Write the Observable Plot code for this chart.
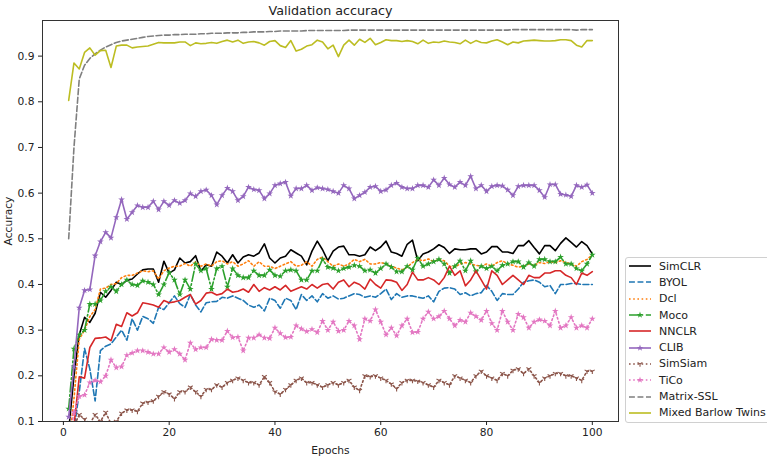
<!DOCTYPE html>
<html><head><meta charset="utf-8">
<script src="https://cdn.jsdelivr.net/npm/d3@7"></script>
<script src="https://cdn.jsdelivr.net/npm/@observablehq/plot@0.6"></script>
<style>
body{margin:0;background:#fff;font-family:"DejaVu Sans",sans-serif;}
#wrap{position:relative;width:767px;height:458px;overflow:hidden;}
#legend{position:absolute;left:625px;top:257px;width:160px;border:1px solid #d0d0d0;border-radius:3px;background:#fff;padding:0 0 1px 0;}
.item{display:flex;align-items:center;height:16.3px;font-size:11px;color:#222;white-space:nowrap;}
.item svg{flex:none;margin-right:3px;}
</style></head><body><div id="wrap"><div id="legend"></div></div>
<script>
const seriesNames = ["SimCLR","BYOL","Dcl","Moco","NNCLR","CLIB","SimSiam","TiCo","Matrix-SSL","Mixed Barlow Twins"];
const xTicks = [0,20,40,60,80,100];
const yTicks = [0.1,0.2,0.3,0.4,0.5,0.6,0.7,0.8,0.9];

const simclr = [0.08,0.20,0.29,0.328,0.317,0.337,0.383,0.372,0.387,0.405,
0.400,0.409,0.412,0.423,0.432,0.434,0.434,0.405,0.451,0.425,
0.432,0.458,0.447,0.450,0.463,0.429,0.443,0.440,0.471,0.462,
0.447,0.465,0.447,0.460,0.465,0.462,0.469,0.489,0.458,0.447,
0.458,0.462,0.476,0.469,0.462,0.443,0.473,0.495,0.476,0.452,
0.473,0.482,0.484,0.465,0.465,0.462,0.465,0.482,0.474,0.482,
0.495,0.471,0.468,0.462,0.488,0.497,0.452,0.467,0.471,0.478,
0.487,0.481,0.468,0.478,0.476,0.476,0.478,0.478,0.467,0.471,
0.483,0.483,0.471,0.471,0.468,0.485,0.485,0.496,0.481,0.467,
0.485,0.485,0.474,0.490,0.502,0.492,0.482,0.494,0.485,0.467];

const byol = [0.02,0.08,0.165,0.26,0.215,0.145,0.255,0.265,0.27,0.285,
0.30,0.278,0.325,0.30,0.33,0.325,0.315,0.35,0.345,0.36,
0.375,0.358,0.35,0.378,0.355,0.34,0.36,0.362,0.363,0.372,
0.37,0.375,0.37,0.365,0.355,0.35,0.355,0.342,0.37,0.365,
0.348,0.37,0.365,0.345,0.378,0.365,0.375,0.362,0.38,0.37,
0.375,0.368,0.37,0.375,0.38,0.378,0.372,0.375,0.372,0.38,
0.39,0.367,0.38,0.372,0.375,0.375,0.372,0.37,0.375,0.362,
0.385,0.392,0.393,0.39,0.378,0.382,0.375,0.38,0.382,0.398,
0.385,0.365,0.38,0.378,0.378,0.39,0.405,0.408,0.41,0.405,
0.395,0.398,0.38,0.40,0.40,0.402,0.402,0.40,0.40,0.40];

const dcl = [0.04,0.15,0.28,0.30,0.33,0.345,0.39,0.392,0.40,0.402,
0.415,0.42,0.42,0.425,0.43,0.428,0.43,0.412,0.43,0.436,
0.44,0.44,0.446,0.44,0.45,0.44,0.445,0.44,0.45,0.452,
0.445,0.45,0.44,0.445,0.452,0.44,0.45,0.44,0.44,0.435,
0.44,0.445,0.45,0.44,0.442,0.45,0.44,0.455,0.46,0.45,
0.44,0.445,0.44,0.445,0.455,0.45,0.455,0.445,0.445,0.448,
0.445,0.44,0.436,0.432,0.438,0.448,0.455,0.452,0.456,0.45,
0.455,0.452,0.44,0.438,0.445,0.448,0.445,0.442,0.44,0.445,
0.44,0.448,0.452,0.445,0.442,0.438,0.44,0.445,0.442,0.448,
0.446,0.45,0.448,0.452,0.448,0.445,0.44,0.45,0.455,0.465];

const moco = [0.128,0.259,0.29,0.30,0.357,0.357,0.365,0.385,0.395,0.385,
0.40,0.41,0.40,0.398,0.408,0.405,0.40,0.378,0.40,0.426,
0.41,0.378,0.41,0.39,0.445,0.43,0.435,0.39,0.435,0.44,
0.395,0.435,0.42,0.415,0.415,0.43,0.42,0.42,0.432,0.42,
0.418,0.43,0.432,0.43,0.41,0.41,0.43,0.43,0.455,0.438,
0.436,0.43,0.435,0.438,0.442,0.44,0.43,0.432,0.425,0.435,
0.445,0.438,0.428,0.428,0.44,0.432,0.458,0.44,0.445,0.45,
0.455,0.445,0.425,0.44,0.452,0.43,0.452,0.428,0.44,0.435,
0.44,0.43,0.442,0.445,0.45,0.45,0.438,0.448,0.44,0.455,
0.455,0.45,0.45,0.46,0.445,0.445,0.435,0.43,0.445,0.465];

const nnclr = [0.03,0.09,0.198,0.195,0.262,0.282,0.283,0.285,0.277,0.313,
0.308,0.338,0.331,0.338,0.36,0.358,0.355,0.35,0.365,0.36,
0.362,0.365,0.372,0.378,0.357,0.365,0.381,0.383,0.377,0.38,
0.39,0.383,0.385,0.39,0.383,0.40,0.385,0.393,0.388,0.395,
0.388,0.398,0.385,0.39,0.395,0.39,0.40,0.392,0.40,0.402,
0.39,0.405,0.41,0.395,0.405,0.40,0.39,0.412,0.40,0.392,
0.41,0.409,0.405,0.387,0.40,0.427,0.41,0.41,0.415,0.41,
0.40,0.415,0.44,0.42,0.43,0.397,0.41,0.43,0.41,0.39,
0.43,0.42,0.40,0.41,0.42,0.41,0.40,0.42,0.415,0.415,
0.425,0.425,0.43,0.43,0.42,0.415,0.40,0.425,0.42,0.428];

const clib = [0.11,0.22,0.349,0.387,0.389,0.463,0.494,0.514,0.502,0.547,
0.586,0.543,0.558,0.573,0.569,0.569,0.582,0.564,0.582,0.573,
0.584,0.578,0.584,0.599,0.593,0.604,0.607,0.595,0.575,0.595,
0.611,0.604,0.584,0.593,0.613,0.608,0.606,0.588,0.599,0.617,
0.621,0.624,0.594,0.610,0.610,0.617,0.606,0.612,0.610,0.608,
0.604,0.600,0.617,0.610,0.588,0.595,0.602,0.613,0.615,0.604,
0.607,0.617,0.622,0.613,0.610,0.610,0.617,0.617,0.613,0.629,
0.617,0.633,0.619,0.613,0.624,0.617,0.637,0.610,0.617,0.604,
0.615,0.617,0.616,0.607,0.595,0.615,0.617,0.617,0.617,0.606,
0.591,0.619,0.619,0.598,0.596,0.593,0.617,0.613,0.618,0.600];

const simsiam = [0.07,0.09,0.115,0.105,0.095,0.115,0.10,0.12,0.095,0.10,
0.118,0.125,0.125,0.122,0.14,0.142,0.145,0.155,0.165,0.16,
0.15,0.165,0.165,0.175,0.165,0.155,0.17,0.17,0.18,0.175,
0.185,0.19,0.195,0.19,0.185,0.185,0.18,0.198,0.185,0.165,
0.16,0.17,0.18,0.19,0.195,0.185,0.185,0.18,0.175,0.18,
0.185,0.18,0.185,0.19,0.175,0.168,0.20,0.198,0.20,0.195,
0.19,0.182,0.172,0.185,0.19,0.19,0.188,0.185,0.18,0.175,
0.19,0.185,0.18,0.20,0.195,0.19,0.185,0.20,0.21,0.20,
0.195,0.19,0.205,0.20,0.212,0.215,0.205,0.215,0.20,0.185,
0.195,0.20,0.205,0.205,0.20,0.20,0.195,0.19,0.21,0.21];

const tico = [0.05,0.12,0.155,0.158,0.185,0.19,0.187,0.20,0.235,0.218,
0.22,0.245,0.25,0.255,0.255,0.252,0.248,0.248,0.262,0.252,
0.258,0.248,0.235,0.272,0.258,0.262,0.262,0.28,0.278,0.278,
0.298,0.284,0.285,0.255,0.283,0.283,0.29,0.283,0.282,0.305,
0.293,0.284,0.285,0.31,0.303,0.297,0.302,0.295,0.32,0.30,
0.318,0.298,0.30,0.32,0.31,0.28,0.325,0.32,0.345,0.318,
0.29,0.305,0.288,0.31,0.325,0.295,0.296,0.325,0.34,0.325,
0.33,0.342,0.325,0.31,0.322,0.318,0.338,0.33,0.322,0.342,
0.315,0.30,0.342,0.318,0.30,0.335,0.328,0.305,0.318,0.323,
0.32,0.31,0.342,0.305,0.31,0.328,0.305,0.31,0.305,0.325];

const matrixSSL = [0.50,0.70,0.85,0.88,0.895,0.905,0.913,0.92,0.925,0.93,
0.933,0.935,0.937,0.939,0.941,0.943,0.944,0.945,0.946,0.946,
0.947,0.947,0.948,0.948,0.948,0.949,0.949,0.950,0.950,0.950,
0.951,0.951,0.951,0.952,0.952,0.953,0.953,0.953,0.954,0.954,
0.955,0.955,0.955,0.955,0.955,0.956,0.956,0.956,0.956,0.956,
0.956,0.956,0.956,0.957,0.957,0.957,0.957,0.957,0.957,0.957,
0.957,0.957,0.957,0.957,0.957,0.957,0.957,0.957,0.957,0.957,
0.957,0.957,0.957,0.957,0.957,0.957,0.957,0.957,0.957,0.957,
0.957,0.957,0.957,0.957,0.958,0.958,0.958,0.958,0.958,0.958,
0.958,0.958,0.958,0.958,0.958,0.958,0.957,0.958,0.958,0.958];

const barlow = [0.803,0.885,0.872,0.908,0.918,0.902,0.912,0.913,0.875,0.922,
0.924,0.924,0.918,0.920,0.921,0.922,0.926,0.930,0.929,0.929,
0.929,0.931,0.931,0.923,0.929,0.927,0.928,0.930,0.928,0.932,
0.935,0.931,0.935,0.928,0.931,0.932,0.929,0.924,0.932,0.934,
0.923,0.919,0.934,0.911,0.915,0.922,0.925,0.935,0.931,0.916,
0.924,0.899,0.924,0.935,0.924,0.937,0.930,0.939,0.925,0.930,
0.936,0.934,0.934,0.932,0.934,0.932,0.927,0.935,0.928,0.931,
0.930,0.933,0.931,0.930,0.927,0.935,0.928,0.934,0.930,0.929,
0.933,0.936,0.931,0.925,0.931,0.929,0.933,0.934,0.935,0.934,
0.933,0.933,0.934,0.936,0.936,0.934,0.924,0.920,0.934,0.934];

const triDown = {
  draw(ctx, size) {
    const r = Math.sqrt(size / Math.PI);
    ctx.moveTo(0, 0); ctx.lineTo(0, r);
    ctx.moveTo(0, 0); ctx.lineTo(-r * 0.866, -r * 0.5);
    ctx.moveTo(0, 0); ctx.lineTo(r * 0.866, -r * 0.5);
  }
};

const styles = {
  "SimCLR": {color: "#000000", dash: null, marker: null},
  "BYOL": {color: "#1f77b4", dash: "5.9,2.6", marker: null},
  "Dcl": {color: "#ff7f0e", dash: "1.6,2.6", marker: null},
  "Moco": {color: "#2ca02c", dash: "10,2.6,1.6,2.6", marker: "star"},
  "NNCLR": {color: "#d62728", dash: null, marker: null},
  "CLIB": {color: "#9467bd", dash: null, marker: "star"},
  "SimSiam": {color: "#8c564b", dash: "1.6,2.6", marker: "tri"},
  "TiCo": {color: "#e377c2", dash: "1.6,2.6", marker: "star"},
  "Matrix-SSL": {color: "#7f7f7f", dash: "5.9,2.6", marker: null},
  "Mixed Barlow Twins": {color: "#bcbd22", dash: null, marker: null}
};
const valuesByName = {
  "SimCLR": simclr, "BYOL": byol, "Dcl": dcl, "Moco": moco, "NNCLR": nnclr,
  "CLIB": clib, "SimSiam": simsiam, "TiCo": tico, "Matrix-SSL": matrixSSL, "Mixed Barlow Twins": barlow
};

const starR = 2.1, triR = 2.8;
const marks = [];
for (const name of seriesNames) {
  const st = styles[name];
  const data = valuesByName[name].map((v, i) => ({epoch: i + 1, acc: v}));
  marks.push(Plot.line(data, {x: "epoch", y: "acc", stroke: st.color, strokeWidth: 1.6,
    strokeDasharray: st.dash || undefined, clip: true}));
  if (st.marker === "star") {
    marks.push(Plot.dot(data, {x: "epoch", y: "acc", symbol: "star", r: starR, fill: st.color, stroke: "none", clip: true}));
  } else if (st.marker === "tri") {
    marks.push(Plot.dot(data, {x: "epoch", y: "acc", symbol: triDown, r: triR, fill: "none", stroke: st.color, strokeWidth: 1.1, clip: true}));
  }
}

const chart = Plot.plot({
  width: 767, height: 458,
  marginLeft: 42, marginRight: 149, marginTop: 20, marginBottom: 37,
  style: {fontFamily: "DejaVu Sans, sans-serif", fontSize: "10.7px", color: "#222", background: "white"},
  x: {domain: [-3.95, 104.95]},
  y: {domain: [0.1, 0.978]},
  marks: [
    ...marks,
    Plot.frame({stroke: "#333", strokeWidth: 1}),
    Plot.axisX({ticks: xTicks, tickSize: 4, tickPadding: 3, label: "Epochs", labelAnchor: "center", labelArrow: "none", labelOffset: 32}),
    Plot.axisY({ticks: yTicks, tickSize: 4, tickPadding: 4, tickFormat: ".1f", label: "Accuracy", labelAnchor: "center", labelArrow: "none", labelOffset: 38}),
    Plot.text(["Validation accuracy"], {frameAnchor: "top", dy: -15, fontSize: 12.7, fill: "#222"})
  ]
});
document.getElementById("wrap").prepend(chart);

const legend = d3.select("#legend");
for (const name of seriesNames) {
  const st = styles[name];
  const item = legend.append("div").attr("class", "item");
  const svg = item.append("svg").attr("width", 30).attr("height", 14);
  svg.append("line").attr("x1", 3).attr("x2", 25).attr("y1", 7).attr("y2", 7)
    .attr("stroke", st.color).attr("stroke-width", 1.6)
    .attr("stroke-dasharray", st.dash);
  if (st.marker === "star") {
    svg.append("path").attr("transform", "translate(14,7)")
      .attr("d", d3.symbol(d3.symbolStar, Math.PI * starR * starR)()).attr("fill", st.color);
  } else if (st.marker === "tri") {
    svg.append("path").attr("transform", "translate(14,7)")
      .attr("d", d3.symbol(triDown, Math.PI * triR * triR)()).attr("fill", "none")
      .attr("stroke", st.color).attr("stroke-width", 1.1);
  }
  item.append("span").text(name);
}
</script>
</body></html>
